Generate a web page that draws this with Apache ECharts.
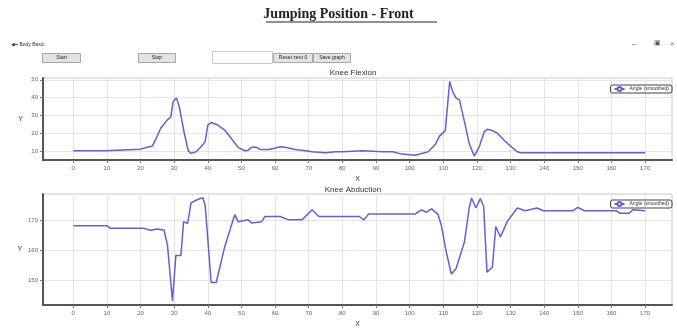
<!DOCTYPE html>
<html>
<head>
<meta charset="utf-8">
<script src="https://cdn.jsdelivr.net/npm/echarts@6/dist/echarts.min.js"></script>
<style>
  html, body { margin: 0; padding: 0; background: #fff; }
  #main { width: 677px; height: 329px; }
</style>
</head>
<body>
<div id="main"></div>
<script>
// 膝关节屈曲（上图）
const flexX = [0, 9.5, 10, 20, 22, 23.5, 24.5, 26, 28, 29, 29.7, 30.7, 31.5, 33, 34.2, 35, 36.5, 38, 39.2, 40,
  41, 43, 45, 47, 49, 51, 52, 53, 54.5, 55.5, 58, 59.5, 61.5, 63, 66, 68, 71, 75, 78, 80,
  86, 92, 95, 97.6, 101.6, 105.5, 107.5, 108.9, 110.6, 111.9, 112.8, 113.8, 114.8, 116.3, 117.7, 119.2,
  120.7, 122.2, 123.1, 124.6, 126.1, 128, 130, 132, 133, 170]
const flexY = [10.2, 10.2, 11.1, 11.1, 12.1, 12.8, 16.6, 22.8, 27.5, 29.3, 37.8, 39.7, 35, 20, 10.2, 8.7, 9.6, 12.4, 15.3, 24.6,
  26, 24.6, 21.8, 17.1, 12.1, 10.2, 10.5, 12.1, 12.1, 10.9, 10.9, 11.4, 12.4, 12.1, 10.9, 10.5, 9.6, 9.1, 9.6, 9.6,
  10.2, 9.6, 9.6, 8.3, 7.7, 9.6, 13.4, 18.4, 21.5, 49.0, 43.4, 39.7, 38.7, 26.5, 14.3, 7.2,
  12.4, 20.9, 22.2, 21.5, 20, 16.2, 12.8, 9.6, 9.1, 9.1]

// 膝关节外展（下图）
const abdX = [0, 10, 11, 21, 23, 25, 27, 28, 29.5, 30.5, 32, 32.8, 34, 35, 37, 38.5, 39.2, 41, 42.5, 45,
  48, 49, 52, 53, 56, 57, 61.5, 64, 68, 71, 73, 80, 85, 86.4, 87.8, 101.6, 103.5, 105, 106.5, 108.4,
  109.4, 110.9, 112.4, 113.8, 116.3, 117.7, 118.4, 119.7, 121, 122, 123, 124.6, 125.6, 126.3, 127, 129,
  132, 134.4, 137.8, 139.8, 148.6, 150, 152, 161.4, 162.4, 165.3, 166.3, 170]
const abdY = [168.1, 168.1, 167.2, 167.2, 166.6, 167, 166.6, 161.7, 143.3, 158.3, 158.3, 169.4, 168.8, 175.6, 176.7, 177.3, 175, 149.4, 149.4, 161.1,
  171.7, 169.4, 170, 169, 169.4, 171.1, 171.1, 170, 170, 173.3, 171.1, 171.1, 171.1, 170, 171.9, 171.9, 173.3, 172.5, 173.6, 171.9,
  168.3, 159.4, 152.2, 153.9, 162.8, 173.9, 177.2, 173.9, 177, 174.4, 152.8, 154.4, 167.8, 166.1, 164.4, 169.4,
  173.9, 173, 173.9, 173, 173, 174.1, 173, 173, 172.2, 172.2, 173.3, 173]

// 刻度
const xTicks = [0, 10, 20, 30, 40, 50, 60, 70, 80, 90, 100, 110, 120, 130, 140, 150, 160, 170]
const flexTicks = [10, 20, 30, 40, 50]
const abdTicks = [150, 160, 170]

const seriesName = 'Angle (smoothed)'
const lineColor = '#6060dc'

const chart = echarts.init(document.getElementById('main'))

function xAxisOpt(gridIndex) {
  return {
    type: 'value', gridIndex, min: -9, max: 178,
    name: 'X', nameLocation: 'middle', nameGap: 16,
    nameTextStyle: { fontSize: 7, color: '#333' },
    axisLine: { onZero: false, lineStyle: { color: '#555', width: 2 } },
    axisTick: { customValues: xTicks, length: 3, lineStyle: { color: '#777' } },
    axisLabel: { customValues: xTicks, fontSize: 6, color: '#666', margin: 5 },
    splitLine: { show: true, lineStyle: { color: '#e4e4e4' } }
  }
}

function yAxisOpt(gridIndex, min, max, ticks) {
  return {
    type: 'value', gridIndex, min, max,
    name: 'Y', nameLocation: 'middle', nameGap: 20, nameRotate: 0,
    nameTextStyle: { fontSize: 7, color: '#333' },
    axisLine: { show: true, onZero: false, lineStyle: { color: '#555', width: 2 } },
    axisTick: { show: true, customValues: ticks, length: 3, lineStyle: { color: '#777' } },
    axisLabel: { customValues: ticks, fontSize: 6, color: '#666', margin: 5 },
    splitLine: { show: true, lineStyle: { color: '#e4e4e4' } }
  }
}

function button(x, y, w, label) {
  return {
    type: 'group', left: x, top: y,
    children: [
      { type: 'rect', shape: { x: 0, y: 0, width: w, height: 9 },
        style: { fill: '#e3e3e3', stroke: '#a8a8a8', lineWidth: 1 } },
      { type: 'text', x: w / 2, y: 4.5,
        style: { text: label, fontSize: 5, fill: '#222', align: 'center', verticalAlign: 'middle' } }
    ]
  }
}

chart.setOption({
  animation: false,
  title: [
    { text: 'Knee Flexion', left: 348, top: 64, textAlign: 'center',
      textStyle: { fontSize: 8, fontWeight: 'normal', color: '#333', fontFamily: 'Liberation Sans' } },
    { text: 'Knee Abduction', left: 348, top: 181, textAlign: 'center',
      textStyle: { fontSize: 8, fontWeight: 'normal', color: '#333', fontFamily: 'Liberation Sans' } }
  ],
  legend: [
    { data: [seriesName], right: 5, top: 85, orient: 'vertical',
      borderColor: '#444', borderWidth: 1, borderRadius: 2, padding: [1, 3],
      itemWidth: 10, itemHeight: 5, itemGap: 0,
      textStyle: { fontSize: 5, color: '#333' } },
    { data: [seriesName], right: 5, top: 200, orient: 'vertical',
      borderColor: '#444', borderWidth: 1, borderRadius: 2, padding: [1, 3],
      itemWidth: 10, itemHeight: 5, itemGap: 0,
      textStyle: { fontSize: 5, color: '#333' } }
  ],
  grid: [
    { left: 43, right: 5, top: 78, height: 82, show: true, borderColor: '#c8c8c8', borderWidth: 1 },
    { left: 43, right: 5, top: 194, height: 112, show: true, borderColor: '#c8c8c8', borderWidth: 1 }
  ],
  xAxis: [xAxisOpt(0), xAxisOpt(1)],
  yAxis: [yAxisOpt(0, 5, 51, flexTicks), yAxisOpt(1, 142, 178.5, abdTicks)],
  series: [
    { name: seriesName, type: 'line', xAxisIndex: 0, yAxisIndex: 0, showSymbol: false,
      lineStyle: { color: lineColor, width: 1.5 }, itemStyle: { color: lineColor },
      data: flexX.map((x, i) => [x, flexY[i]]) },
    { name: seriesName, type: 'line', xAxisIndex: 1, yAxisIndex: 1, showSymbol: false,
      lineStyle: { color: lineColor, width: 1.5 }, itemStyle: { color: lineColor },
      data: abdX.map((x, i) => [x, abdY[i]]) }
  ],
  graphic: [
    // 主标题（带下划线）
    { type: 'text', left: 'center', top: 7,
      style: { text: 'Jumping Position - Front', fontSize: 14, fontWeight: 'bold',
        fontFamily: 'Liberation Serif', fill: '#222' } },
    { type: 'line', shape: { x1: 266, y1: 22, x2: 437, y2: 22 }, style: { stroke: '#222', lineWidth: 1 } },
    // 左上角返回
    { type: 'text', left: 11, top: 42, style: { text: '◀━ Body Basic', fontSize: 5, fill: '#333' } },
    // 窗口按钮
    { type: 'text', left: 632, top: 40, style: { text: '–', fontSize: 8, fill: '#777' } },
    { type: 'text', left: 654, top: 40, style: { text: '▣', fontSize: 7, fill: '#555' } },
    { type: 'text', left: 670, top: 40, style: { text: '×', fontSize: 8, fill: '#777' } },
    // 控件
    button(42, 53, 38, 'Start'),
    button(138, 53, 37, 'Stop'),
    { type: 'rect', left: 212, top: 51, shape: { x: 0, y: 0, width: 60, height: 12 },
      style: { fill: '#fff', stroke: '#c8c8c8', lineWidth: 1 } },
    button(273, 53, 39, 'Reset zero 0'),
    button(313, 53, 37, 'Save graph')
  ]
})
</script>
</body>
</html>
